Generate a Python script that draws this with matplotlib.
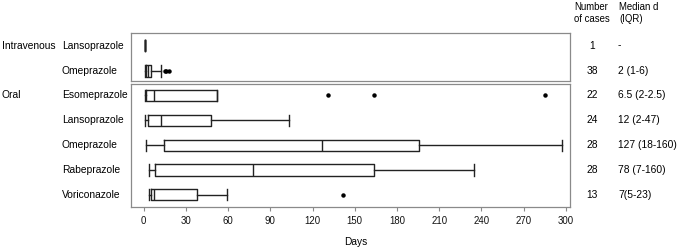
import matplotlib
matplotlib.use("Agg")
import matplotlib.pyplot as plt
import matplotlib.transforms as mtransforms

plt.rcParams['font.family'] = ['Liberation Sans', 'DejaVu Sans']
plt.rcParams['font.size'] = 7.4

# ---- data (days) ----
iv_names = ['Lansoprazole', 'Omeprazole']
iv_whislo = [1, 0.7]
iv_q1 = [1, 2]
iv_med = [1, 3]
iv_q3 = [1, 5.5]
iv_whishi = [1, 12]
iv_fliers = [[], [15, 16, 18]]
iv_n = ['1', '38']
iv_median_iqr = ['-', '2 (1-6)']

oral_names = ['Esomeprazole', 'Lansoprazole', 'Omeprazole', 'Rabeprazole', 'Voriconazole']
oral_whislo = [1, 0.7, 2, 4, 4]
oral_q1 = [2, 3, 14.5, 8, 5.3]
oral_med = [7, 12.5, 127, 78, 7.3]
oral_q3 = [52, 48, 196, 163.5, 38]
oral_whishi = [52, 103, 297, 235, 59]
oral_fliers = [[131, 164, 285], [], [], [], [142]]
oral_n = ['22', '24', '28', '28', '13']
oral_median_iqr = ['6.5 (2-2.5)', '12 (2-47)', '127 (18-160)', '78 (7-160)', '7(5-23)']

xticks = list(range(0, 301, 30))

W, H = 677, 249
fig = plt.figure(figsize=(W / 100, H / 100), dpi=100)

def fx(px):
    return px / W

ax_iv = fig.add_axes([fx(131), 1 - 81 / H, fx(570 - 131), 47.7 / H])
ax_or = fig.add_axes([fx(131), 1 - 207.3 / H, fx(570 - 131), 123 / H])

line_col = '#222222'
frame_col = '#8a8a8a'


def draw(ax, names, lo, q1, med, q3, hi, fliers):
    stats = []
    for i in range(len(names)):
        stats.append(dict(whislo=lo[i], q1=q1[i], med=med[i], q3=q3[i],
                          whishi=hi[i], fliers=fliers[i], label=names[i]))
    ax.bxp(stats, positions=range(len(names)), widths=0.45, vert=False,
           showfliers=True, patch_artist=False,
           boxprops=dict(color=line_col, linewidth=1),
           medianprops=dict(color=line_col, linewidth=1),
           whiskerprops=dict(color=line_col, linewidth=1),
           capprops=dict(color=line_col, linewidth=1),
           capwidths=0.45,
           flierprops=dict(marker='o', markersize=2.2, markerfacecolor='black',
                           markeredgecolor='black'))
    ax.set_xlim(-9, 303)
    for s in ax.spines.values():
        s.set_color(frame_col)
        s.set_linewidth(0.9)


draw(ax_iv, iv_names, iv_whislo, iv_q1, iv_med, iv_q3, iv_whishi, iv_fliers)
draw(ax_or, oral_names, oral_whislo, oral_q1, oral_med, oral_q3, oral_whishi, oral_fliers)

ax_iv.set_ylim(1.39, -0.48)
ax_or.set_ylim(4.5, -0.45)

ax_iv.set_xticks([])
ax_iv.set_yticks([])
ax_or.set_yticks([])
ax_or.set_xticks(xticks)
ax_or.tick_params(axis='x', length=3, width=0.8, color=frame_col, pad=3,
                  labelsize=6.9, labelcolor='#111111')

fig.text(fx(355.5), 1 - 242 / H, 'Days', ha='center', va='center', fontsize=7.3)

# row labels and right-hand columns
for ax, group, names, ns, meds in [
        (ax_iv, 'Intravenous', iv_names, iv_n, iv_median_iqr),
        (ax_or, 'Oral', oral_names, oral_n, oral_median_iqr)]:
    tr = mtransforms.blended_transform_factory(fig.transFigure, ax.transData)
    ax.text(fx(2), 0, group, transform=tr, ha='left', va='center')
    for i, name in enumerate(names):
        ax.text(fx(62), i, name, transform=tr, ha='left', va='center')
        ax.text(fx(592), i, ns[i], transform=tr, ha='center', va='center')
        ax.text(fx(618), i, meds[i], transform=tr, ha='left', va='center')

hdr = dict(ha='left', va='center', fontsize=6.9)
fig.text(fx(574), 1 - 6.5 / H, 'Number', **hdr)
fig.text(fx(574), 1 - 18.5 / H, 'of cases', **hdr)
fig.text(fx(619), 1 - 6.5 / H, 'Median d', **hdr)
fig.text(fx(619), 1 - 18.5 / H, '(IQR)', **hdr)

fig.savefig('out.png', dpi=100)
